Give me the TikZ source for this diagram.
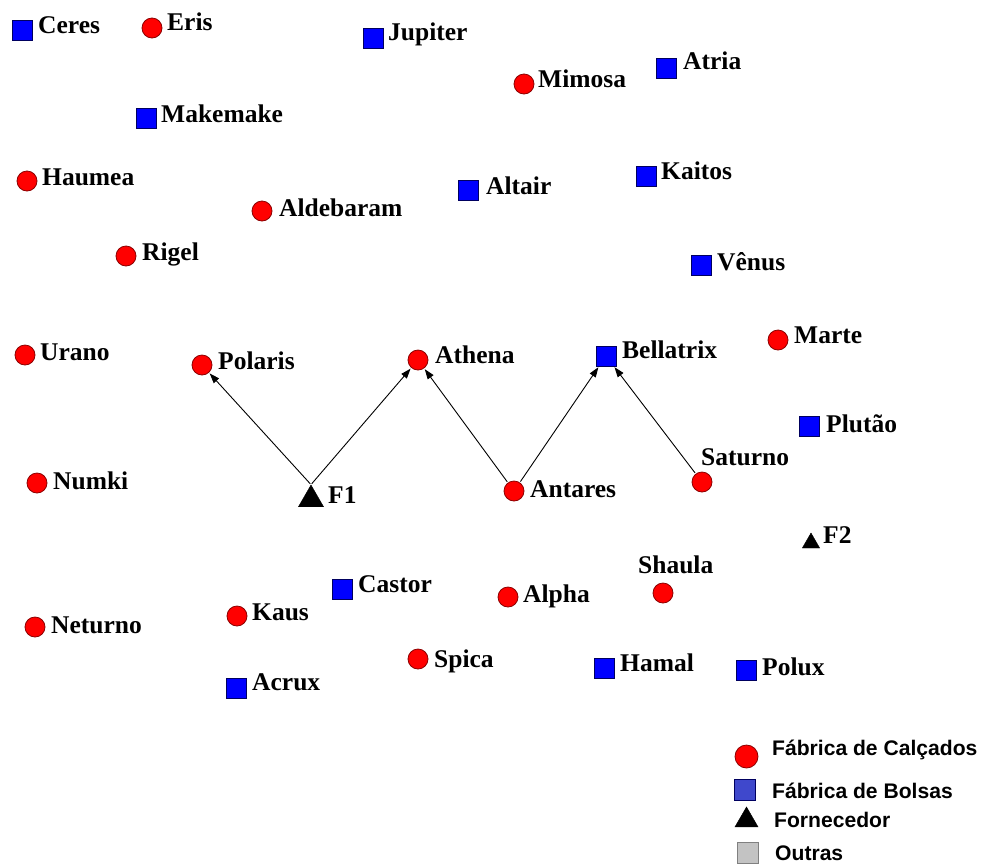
\documentclass[tikz,border=0pt]{standalone}
\usepackage{fontspec}
\setmainfont{Liberation Serif}
\newfontfamily\legfont{Liberation Sans}
\usetikzlibrary{shapes.geometric,arrows.meta}
\definecolor{cred}{HTML}{FF0000}
\definecolor{cbord}{HTML}{8B0000}
\definecolor{cblue}{HTML}{0000FF}
\definecolor{cblueb}{HTML}{000060}
\definecolor{clegblue}{HTML}{3F48CC}
\definecolor{cgray}{HTML}{C3C3C3}
\tikzset{
  calc/.style={circle,fill=cred,draw=cbord,line width=0.8pt,minimum size=20pt,inner sep=0pt},
  bols/.style={rectangle,fill=cblue,draw=cblueb,line width=0.8pt,minimum size=20pt,inner sep=0pt},
  forn/.style={regular polygon,regular polygon sides=3,fill=black,draw=black,inner sep=0pt},
  lbl/.style={anchor=base west,inner sep=0pt,font=\fontsize{25.5}{25.5}\selectfont\bfseries},
  leg/.style={anchor=base west,inner sep=0pt,font=\legfont\fontsize{21.1}{21.1}\selectfont\bfseries},
  arr/.style={-{Triangle[length=10pt,width=7pt]},line width=0.9pt,shorten >=1pt,shorten <=1pt}
}
\begin{document}
\begin{tikzpicture}[x=1pt,y=-1pt]
\useasboundingbox[fill=white] (0,0) rectangle (983,863);
% markers
\node[bols] (Ceres) at (22,30) {};
\node[calc] (Eris) at (152,28) {};
\node[bols] (Jupiter) at (373,38) {};
\node[calc] (Mimosa) at (524,84) {};
\node[bols] (Atria) at (666,68) {};
\node[bols] (Makemake) at (146,118) {};
\node[calc] (Haumea) at (27,181) {};
\node[bols] (Altair) at (468,190) {};
\node[bols] (Kaitos) at (646,176) {};
\node[calc] (Aldebaram) at (262,211) {};
\node[calc] (Rigel) at (126,256) {};
\node[bols] (Venus) at (701,265) {};
\node[calc] (Urano) at (25,355) {};
\node[calc] (Polaris) at (202,365) {};
\node[calc] (Athena) at (418,360) {};
\node[bols] (Bellatrix) at (606,356) {};
\node[calc] (Marte) at (778,340) {};
\node[bols] (Plutao) at (809,426) {};
\node[calc] (Saturno) at (702,482) {};
\node[calc] (Numki) at (37,483) {};
\node[forn,minimum size=29pt] (F1) at (311,499.5) {};
\node[calc] (Antares) at (514,491) {};
\node[forn,minimum size=20pt] (F2) at (811,543) {};
\node[calc] (Shaula) at (663,593) {};
\node[bols] (Castor) at (342,589) {};
\node[calc] (Alpha) at (508,597) {};
\node[calc] (Kaus) at (237,616) {};
\node[calc] (Neturno) at (35,627) {};
\node[calc] (Spica) at (418,659) {};
\node[bols] (Hamal) at (604,668) {};
\node[bols] (Polux) at (746,670) {};
\node[bols] (Acrux) at (236,688) {};
% labels
\node[lbl] (tCeres) at (38,33) {Ceres};
\node[lbl] (tEris) at (167,30) {Eris};
\node[lbl] (tJupiter) at (388,40) {Jupiter};
\node[lbl] (tMimosa) at (538,87) {Mimosa};
\node[lbl] (tAtria) at (683,69) {Atria};
\node[lbl] (tMakemake) at (161,122) {Makemake};
\node[lbl] (tHaumea) at (42,185) {Haumea};
\node[lbl] (tAltair) at (486,194) {Altair};
\node[lbl] (tKaitos) at (661,179) {Kaitos};
\node[lbl] (tAldebaram) at (279,216) {Aldebaram};
\node[lbl] (tRigel) at (142,260) {Rigel};
\node[lbl] (tVenus) at (717,270) {Vênus};
\node[lbl] (tUrano) at (40,360) {Urano};
\node[lbl] (tPolaris) at (218,369) {Polaris};
\node[lbl] (tAthena) at (435,363) {Athena};
\node[lbl] (tBellatrix) at (622,358) {Bellatrix};
\node[lbl] (tMarte) at (794,343) {Marte};
\node[lbl] (tPlutao) at (826,432) {Plutão};
\node[lbl] (tSaturno) at (701,465) {Saturno};
\node[lbl] (tNumki) at (53,489) {Numki};
\node[lbl] (tF1) at (328,503) {F1};
\node[lbl] (tAntares) at (530,497) {Antares};
\node[lbl] (tF2) at (823,543) {F2};
\node[lbl] (tShaula) at (638,573) {Shaula};
\node[lbl] (tCastor) at (358,592) {Castor};
\node[lbl] (tAlpha) at (523,602) {Alpha};
\node[lbl] (tKaus) at (252,620) {Kaus};
\node[lbl] (tNeturno) at (51,633) {Neturno};
\node[lbl] (tSpica) at (434,667) {Spica};
\node[lbl] (tHamal) at (620,671) {Hamal};
\node[lbl] (tPolux) at (762,675) {Polux};
\node[lbl] (tAcrux) at (252,690) {Acrux};
% arrows
\draw[arr] (F1.north) -- (Polaris);
\draw[arr] (F1.north) -- (Athena);
\draw[arr] (Antares) -- (Athena);
\draw[arr] (Antares) -- (Bellatrix);
\draw[arr] (Saturno) -- (Bellatrix);
% legend
\node[calc,minimum size=23pt] (lc) at (746.5,756.5) {};
\node[rectangle,fill=clegblue,draw=cblueb,line width=0.8pt,minimum size=21pt,inner sep=0pt] (lb) at (745,789.5) {};
\node[forn,minimum size=26.7pt] (lf) at (746.5,820.3) {};
\node[rectangle,fill=cgray,draw=gray,line width=0.8pt,minimum size=21pt,inner sep=0pt] (lo) at (747.5,853) {};
\node[leg] (tlc) at (772,755) {Fábrica de Calçados};
\node[leg] (tlb) at (772,798) {Fábrica de Bolsas};
\node[leg] (tlf) at (774,827) {Fornecedor};
\node[leg] (tlo) at (775,860) {Outras};
\end{tikzpicture}
\end{document}
